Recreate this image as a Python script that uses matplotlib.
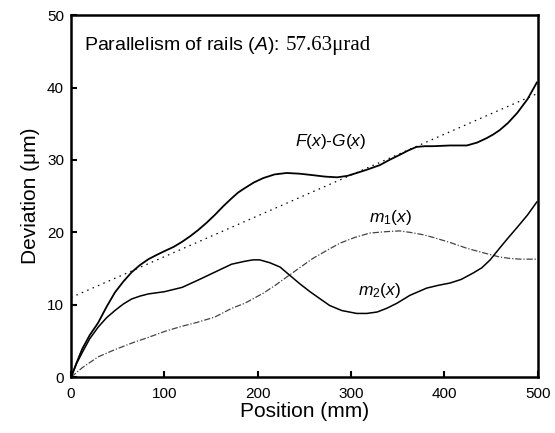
import matplotlib
matplotlib.use('Agg')
import matplotlib.pyplot as plt
from matplotlib.transforms import offset_copy

plt.rcParams['font.family'] = ['Liberation Sans', 'DejaVu Sans']
plt.rcParams['mathtext.fontset'] = 'custom'
plt.rcParams['mathtext.it'] = 'Liberation Sans:italic'
plt.rcParams['mathtext.rm'] = 'Liberation Sans'

# F(x)-G(x)
fg_x = [0, 6, 12, 20, 29, 38, 47, 56, 65, 74, 83, 92, 100, 110, 119, 128, 136, 145, 154,
        163, 172, 179, 186, 196, 206, 218, 231, 245, 259, 272, 285, 296, 306, 318, 331, 341,
        352, 361, 370, 379, 388, 406, 424, 435, 445, 452, 459, 468, 478, 489, 499]
fg_y = [0, 2.0, 3.9, 5.8, 7.5, 9.7, 11.7, 13.2, 14.5, 15.5, 16.3, 16.9, 17.4, 18.0, 18.7,
        19.5, 20.3, 21.3, 22.4, 23.6, 24.7, 25.5, 26.1, 26.9, 27.5, 28.0, 28.2, 28.1, 27.9,
        27.7, 27.6, 27.8, 28.2, 28.7, 29.3, 30.0, 30.7, 31.3, 31.8, 31.9, 31.9, 32.0, 32.0,
        32.4, 33.0, 33.5, 34.1, 35.1, 36.5, 38.4, 40.7]

# least-squares line
fit_x = [0, 500]
fit_y = [11.0, 39.2]

# m1(x)
m1_x = [0, 12, 29, 47, 65, 83, 100, 118, 136, 154, 172, 186, 206, 220, 234, 247, 259, 274,
        288, 304, 320, 338, 352, 363, 376, 388, 406, 424, 441, 459, 470, 481, 490, 499]
m1_y = [0, 1.3, 2.8, 3.8, 4.7, 5.5, 6.3, 7.0, 7.6, 8.3, 9.5, 10.2, 11.6, 12.8, 14.1, 15.3,
        16.4, 17.5, 18.5, 19.3, 19.9, 20.1, 20.2, 20.0, 19.7, 19.3, 18.6, 17.8, 17.2, 16.6,
        16.4, 16.3, 16.3, 16.3]

# m2(x)
m2_x = [0, 6, 12, 20, 29, 38, 47, 56, 65, 74, 83, 100, 119, 136, 154, 172, 186, 195, 202,
        213, 224, 234, 245, 256, 267, 277, 290, 306, 317, 328, 338, 349, 363, 381, 394, 406,
        418, 431, 440, 449, 459, 468, 478, 489, 499]
m2_y = [0, 1.9, 3.4, 5.3, 6.9, 8.2, 9.2, 10.1, 10.8, 11.2, 11.5, 11.8, 12.4, 13.4, 14.5,
        15.6, 16.0, 16.2, 16.2, 15.8, 15.2, 14.1, 12.9, 11.8, 10.8, 9.9, 9.2, 8.8, 8.8, 9.0,
        9.5, 10.2, 11.3, 12.3, 12.7, 13.0, 13.5, 14.4, 15.1, 16.2, 17.8, 19.2, 20.7, 22.4, 24.2]

fig = plt.figure(figsize=(5.55, 4.33), dpi=100)
ax = fig.add_axes([0.128, 0.129, 0.841, 0.836])

ax.plot(fg_x, fg_y, color='black', lw=1.3)
ax.plot(fit_x, fit_y, color='black', lw=0.9, linestyle=(0, (1.2, 3.5)))
ax.plot(m1_x, m1_y, color='#444444', lw=0.9, linestyle=(0, (5, 1.5, 1, 1.5)))
ax.plot(m2_x, m2_y, color='black', lw=1.1)

ax.set_xlim(0, 500)
ax.set_ylim(0, 50)
ax.set_xticks([0, 100, 200, 300, 400, 500])
ax.set_yticks([0, 10, 20, 30, 40, 50])
ax.tick_params(direction='in', length=4, width=1.5, labelsize=11)
ax.tick_params(axis='x', pad=7)
ax.tick_params(axis='y', pad=5)
for s in ax.spines.values():
    s.set_linewidth(1.8)

ax.set_xlabel('Position (mm)', fontsize=15, labelpad=1)
ax.set_ylabel('Deviation (\u03bcm)', fontsize=15, labelpad=5)

# title-ish note: sans part, then serif value right after it
t1 = ax.text(14, 45.2, 'Parallelism of rails ($A$):', fontsize=14, va='baseline')
renderer = fig.canvas.get_renderer()
w = t1.get_window_extent(renderer).width
trans = offset_copy(ax.transData, fig=fig, x=w + 6, y=0, units='dots')
ax.text(14, 45.2, '57.63\u03bcrad', fontsize=15, va='baseline',
        family='Liberation Serif', transform=trans)

ax.text(278, 32.5, '$F(x)$-$G(x)$', fontsize=12.5, ha='center', va='center')
ax.text(342, 22, '$m_1(x)$', fontsize=12.5, ha='center', va='center')
ax.text(330, 12.0, '$m_2(x)$', fontsize=12.5, ha='center', va='center')

fig.savefig('out.png', dpi=100)
